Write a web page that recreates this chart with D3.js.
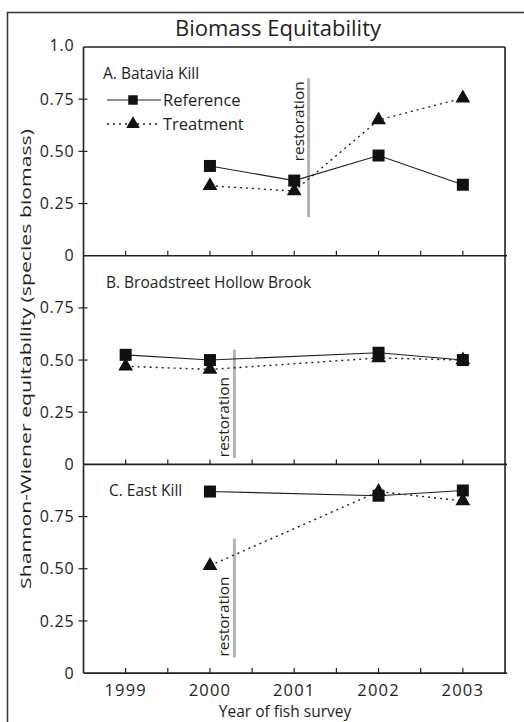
<!DOCTYPE html>
<html>
<head>
<meta charset="utf-8">
<script src="https://cdn.jsdelivr.net/npm/d3@7.9.0/dist/d3.min.js"></script>
<style>
  html, body { margin: 0; padding: 0; background: #fff; }
  svg { display: block; }
  text { font-family: "Open Sans", "DejaVu Sans", sans-serif; fill: #231f20; }
</style>
</head>
<body>
<svg id="chart" width="524" height="722"></svg>
<script>
const years = [1999, 2000, 2001, 2002, 2003];
const yTicks = [0, 0.25, 0.5, 0.75, 1.0];
const yTickLabels = ['0', '0.25', '0.50', '0.75', '1.0'];

// equitability per year, null = no survey
const bataviaRef = [null, 0.43, 0.36, 0.48, 0.34];
const bataviaTrt = [null, 0.335, 0.31, 0.65, 0.755];
const broadRef = [0.525, 0.50, null, 0.535, 0.50];
const broadTrt = [0.47, 0.455, null, 0.51, 0.50];
const eastRef = [null, 0.87, null, 0.85, 0.875];
const eastTrt = [null, 0.515, null, 0.87, 0.825];

const panelNames = ['A. Batavia Kill', 'B. Broadstreet Hollow Brook', 'C. East Kill'];
// restoration marker: year position, top and bottom value
const restoration = [
  { year: 2001.17, top: 0.85, bottom: 0.185, textAt: 'top' },
  { year: 2000.29, top: 0.55, bottom: 0.03, textAt: 'bottom' },
  { year: 2000.29, top: 0.645, bottom: 0.075, textAt: 'bottom' }
];

const panels = [
  { name: panelNames[0], ref: bataviaRef, trt: bataviaTrt, rest: restoration[0] },
  { name: panelNames[1], ref: broadRef, trt: broadTrt, rest: restoration[1] },
  { name: panelNames[2], ref: eastRef, trt: eastTrt, rest: restoration[2] }
];

const ink = '#231f20';
const left = 83.5;
const right = 505;
const top0 = 47;
const panelH = 208.7;

const svg = d3.select('#chart');

// outer frame (runs off the page on the right and bottom)
svg.append('rect')
  .attr('x', 7.5).attr('y', 12.5)
  .attr('width', 540).attr('height', 740)
  .attr('fill', 'none').attr('stroke', '#333').attr('stroke-width', 1.5);

svg.append('text')
  .attr('x', 278).attr('y', 36)
  .attr('text-anchor', 'middle')
  .attr('font-size', 22)
  .text('Biomass Equitability');

const x = d3.scaleLinear().domain([1998.5, 2003.5]).range([left, right]);
const xMinor = d3.range(1999, 2003.5, 0.5);

const squareSym = d3.symbol().type(d3.symbolSquare).size(144);
const triSym = d3.symbol().type(d3.symbolTriangle).size(95);

function toPoints(values) {
  return years
    .map((yr, i) => ({ year: yr, value: values[i] }))
    .filter((d) => d.value !== null);
}

panels.forEach((p, idx) => {
  const pTop = top0 + idx * panelH;
  const pBottom = pTop + panelH;
  const y = d3.scaleLinear().domain([0, 1]).range([pBottom, pTop]);
  const g = svg.append('g');

  // y axis ticks and labels
  yTicks.forEach((t, i) => {
    if (t === 1 && idx > 0) return;
    if (t > 0 && t < 1) {
      g.append('line')
        .attr('x1', left - 5).attr('x2', left + 4)
        .attr('y1', y(t)).attr('y2', y(t))
        .attr('stroke', ink).attr('stroke-width', 1.2);
    }
    g.append('text')
      .attr('x', left - 9).attr('y', t === 1 ? y(t) - 2 : y(t))
      .attr('dy', '0.35em')
      .attr('text-anchor', 'end')
      .attr('font-size', 16)
      .attr('letter-spacing', 0.8)
      .text(yTickLabels[i]);
  });

  // x ticks pointing up from the bottom line
  g.selectAll('line.xt')
    .data(xMinor)
    .join('line')
    .attr('class', 'xt')
    .attr('x1', (d) => x(d)).attr('x2', (d) => x(d))
    .attr('y1', pBottom).attr('y2', pBottom - 5)
    .attr('stroke', ink).attr('stroke-width', 1.2);

  // panel frame
  g.append('line')
    .attr('x1', left).attr('x2', left).attr('y1', pTop).attr('y2', pBottom)
    .attr('stroke', ink).attr('stroke-width', 1.6);
  g.append('line')
    .attr('x1', right).attr('x2', right).attr('y1', pTop).attr('y2', pBottom)
    .attr('stroke', ink).attr('stroke-width', 1.6);
  g.append('line')
    .attr('x1', left).attr('x2', right + 2).attr('y1', pBottom).attr('y2', pBottom)
    .attr('stroke', ink).attr('stroke-width', 1.6);
  if (idx === 0) {
    g.append('line')
      .attr('x1', left).attr('x2', right).attr('y1', pTop).attr('y2', pTop)
      .attr('stroke', ink).attr('stroke-width', 1.6);
  }

  g.append('text')
    .attr('x', 103 + idx * 3).attr('y', pTop + 32)
    .attr('font-size', 15.5)
    .text(p.name);

  // restoration bar
  const r = p.rest;
  g.append('line')
    .attr('x1', x(r.year)).attr('x2', x(r.year))
    .attr('y1', y(r.top)).attr('y2', y(r.bottom))
    .attr('stroke', '#b2b4b8').attr('stroke-width', 3);
  g.append('text')
    .attr('transform', `translate(${x(r.year) - 5},${r.textAt === 'top' ? y(r.top) + 3 : y(r.bottom) - 1}) rotate(-90)`)
    .attr('text-anchor', r.textAt === 'top' ? 'end' : 'start')
    .attr('font-size', 14)
    .attr('textLength', 80)
    .attr('lengthAdjust', 'spacingAndGlyphs')
    .text('restoration');

  const line = d3.line().x((d) => x(d.year)).y((d) => y(d.value));
  const refPts = toPoints(p.ref);
  const trtPts = toPoints(p.trt);

  g.append('path')
    .attr('d', line(trtPts))
    .attr('fill', 'none').attr('stroke', ink)
    .attr('stroke-width', 1.4).attr('stroke-dasharray', '2,4');
  g.append('path')
    .attr('d', line(refPts))
    .attr('fill', 'none').attr('stroke', ink).attr('stroke-width', 1.1);

  g.selectAll('path.tri')
    .data(trtPts)
    .join('path')
    .attr('class', 'tri')
    .attr('transform', (d) => `translate(${x(d.year)},${y(d.value)})`)
    .attr('d', triSym)
    .attr('fill', '#111');
  g.selectAll('path.sq')
    .data(refPts)
    .join('path')
    .attr('class', 'sq')
    .attr('transform', (d) => `translate(${x(d.year)},${y(d.value)})`)
    .attr('d', squareSym)
    .attr('fill', '#111');

  // legend only in the first panel
  if (idx === 0) {
    const leg = [
      { label: 'Reference', sym: d3.symbol().type(d3.symbolSquare).size(90), dash: null, yPos: 100 },
      { label: 'Treatment', sym: d3.symbol().type(d3.symbolTriangle).size(80), dash: '2,4', yPos: 124 }
    ];
    leg.forEach((l) => {
      g.append('line')
        .attr('x1', 107).attr('x2', 161).attr('y1', l.yPos).attr('y2', l.yPos)
        .attr('stroke', ink).attr('stroke-width', l.dash ? 1.4 : 1.1)
        .attr('stroke-dasharray', l.dash);
      g.append('path')
        .attr('transform', `translate(133,${l.yPos})`)
        .attr('d', l.sym).attr('fill', '#111');
      g.append('text')
        .attr('x', 163).attr('y', l.yPos).attr('dy', '0.35em')
        .attr('font-size', 16.5)
        .text(l.label);
    });
  }
});

const bottom = top0 + 3 * panelH;

svg.selectAll('text.xl')
  .data(years)
  .join('text')
  .attr('class', 'xl')
  .attr('x', (d) => x(d)).attr('y', bottom + 23)
  .attr('text-anchor', 'middle')
  .attr('font-size', 16.5)
  .attr('letter-spacing', 1.2)
  .text((d) => d);

svg.append('text')
  .attr('x', 285).attr('y', bottom + 44)
  .attr('text-anchor', 'middle')
  .attr('font-size', 15.5)
  .text('Year of fish survey');

svg.append('text')
  .attr('transform', `translate(31,${359}) rotate(-90)`)
  .attr('text-anchor', 'middle')
  .attr('font-size', 14)
  .attr('textLength', 460)
  .attr('lengthAdjust', 'spacingAndGlyphs')
  .text('Shannon-Wiener equitability (species biomass)');
</script>
</body>
</html>
